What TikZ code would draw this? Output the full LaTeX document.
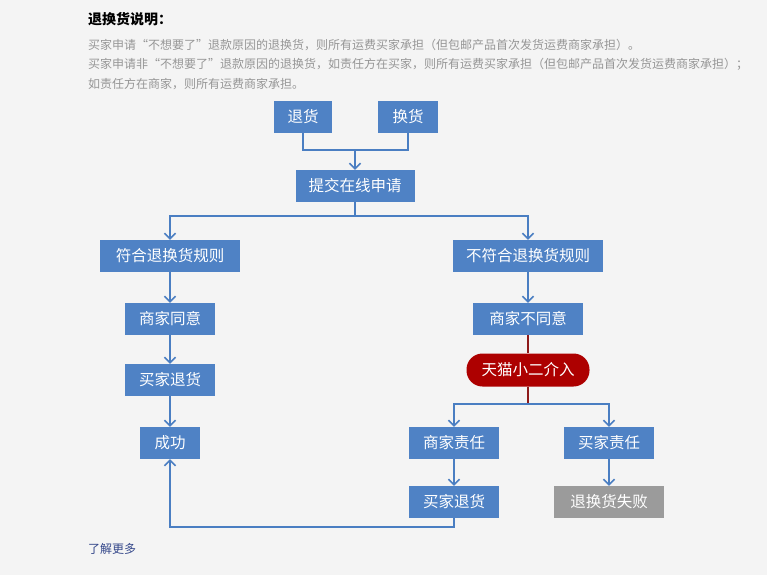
\documentclass[tikz,border=0pt]{standalone}
\usepackage{fontspec}
\setmainfont{Noto Sans CJK SC}
\usepackage{xcolor}
\usetikzlibrary{arrows.meta}

\definecolor{pagebg}{HTML}{F4F4F4}
\definecolor{boxblue}{HTML}{4F82C5}
\definecolor{lineblue}{HTML}{4A7EC2}
\definecolor{pillred}{HTML}{AD0000}
\definecolor{linered}{HTML}{8E1A1A}
\definecolor{boxgrey}{HTML}{9B9B9B}
\definecolor{notegrey}{HTML}{969696}
\definecolor{linkblue}{HTML}{34478A}

\begin{document}
\begin{tikzpicture}[x=1pt, y=-1pt,
bluebox/.style={rectangle, fill=boxblue, text=white, inner sep=0pt, minimum height=32, font=\fontsize{15.5}{18}\selectfont},
greybox/.style={bluebox, fill=boxgrey},
redpill/.style={rectangle, rounded corners=16, fill=pillred, text=white, inner sep=0pt, minimum height=33, minimum width=123, font=\fontsize{15.5}{18}\selectfont},
note/.style={anchor=west, inner sep=0pt, text=notegrey, font=\fontsize{12}{14}\selectfont},
flow/.style={draw=lineblue, line width=1.6},
arrow/.style={flow, -{Straight Barb[length=5.5, width=11, line width=1.6]}},
redline/.style={draw=linered, line width=1.6},
]
\fill[pagebg] (0,0) rectangle (767,575);

%Texts
\node[note, text=black, font=\fontsize{14}{16}\selectfont\bfseries] (title) at (88,19) {退换货说明：};
\node[note] (rule_a) at (88,45) {买家申请“不想要了”退款原因的退换货，则所有运费买家承担（但包邮产品首次发货运费商家承担）。};
\node[note] (rule_b) at (88,64) {买家申请非“不想要了”退款原因的退换货，如责任方在买家，则所有运费买家承担（但包邮产品首次发货运费商家承担）；};
\node[note] (rule_c) at (88,84) {如责任方在商家，则所有运费商家承担。};
\node[note, text=linkblue] (more) at (88,549) {了解更多};

%Nodes
\node[bluebox, minimum width=58] (tuihuo) at (303,117) {退货};
\node[bluebox, minimum width=60] (huanhuo) at (408,117) {换货};
\node[bluebox, minimum width=119] (tijiao) at (355,186) {提交在线申请};
\node[bluebox, minimum width=140] (fuhe) at (170,256) {符合退换货规则};
\node[bluebox, minimum width=150] (bufuhe) at (528,256) {不符合退换货规则};
\node[bluebox, minimum width=90] (tongyi) at (170,319) {商家同意};
\node[bluebox, minimum width=90] (tuihuo_a) at (170,380) {买家退货};
\node[bluebox, minimum width=60] (chenggong) at (170,443) {成功};
\node[bluebox, minimum width=110] (butongyi) at (528,319) {商家不同意};
\node[redpill] (xiaoer) at (528,370) {天猫小二介入};
\node[bluebox, minimum width=90] (shangjia) at (454,443) {商家责任};
\node[bluebox, minimum width=90] (maijia) at (609,443) {买家责任};
\node[bluebox, minimum width=90] (tuihuo_b) at (454,502) {买家退货};
\node[greybox, minimum width=110] (shibai) at (609,502) {退换货失败};

\coordinate (join) at (355,150);
\coordinate (split) at (355,216);
\coordinate (judge) at (528,404);
\coordinate (back) at (170,527);

%Lines
\draw[flow] (tuihuo.south) |- (join);
\draw[flow] (huanhuo.south) |- (join);
\draw[arrow] (join) -- (tijiao.north);
\draw[flow] (tijiao.south) -- (split);
\draw[arrow] (split) -| (fuhe.north);
\draw[arrow] (split) -| (bufuhe.north);
\draw[arrow] (fuhe.south) -- (tongyi.north);
\draw[arrow] (tongyi.south) -- (tuihuo_a.north);
\draw[arrow] (tuihuo_a.south) -- (chenggong.north);
\draw[arrow] (bufuhe.south) -- (butongyi.north);
\draw[redline] (butongyi.south) -- (xiaoer.north);
\draw[redline] (xiaoer.south) -- (judge);
\draw[arrow] (judge) -| (shangjia.north);
\draw[arrow] (judge) -| (maijia.north);
\draw[arrow] (shangjia.south) -- (tuihuo_b.north);
\draw[arrow] (maijia.south) -- (shibai.north);
\draw[arrow] (tuihuo_b.south) |- (back) -- (chenggong.south);

\end{tikzpicture}
\end{document}
